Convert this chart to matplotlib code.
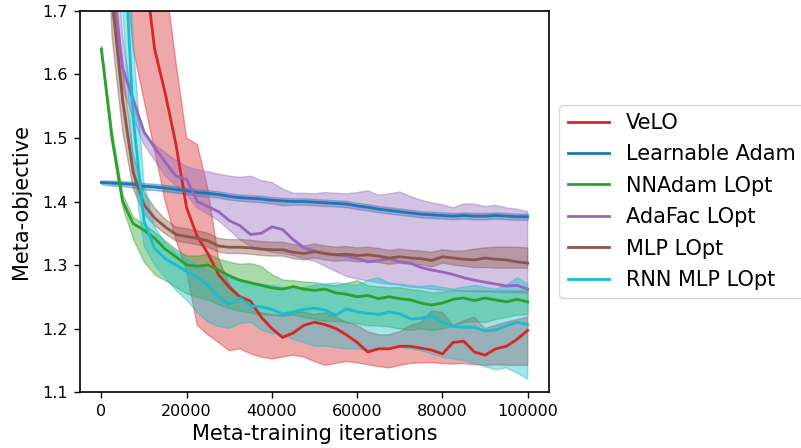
import numpy as np
import matplotlib
matplotlib.use('Agg')
import matplotlib.pyplot as plt

# meta-training iterations, one sample every 2500 steps
iters = np.arange(0, 100001, 2500)

labels = ['VeLO', 'Learnable Adam', 'NNAdam LOpt', 'AdaFac LOpt', 'MLP LOpt', 'RNN MLP LOpt']
colors = ['#d62728', '#1f77b4', '#2ca02c', '#9467bd', '#8c564b', '#17becf']

# VeLO
velo = [2.6, 2.4, 2.2, 2.0, 1.78, 1.64, 1.57, 1.49, 1.39, 1.345, 1.318, 1.285, 1.265, 1.25,
        1.243, 1.218, 1.2, 1.186, 1.193, 1.205, 1.21, 1.206, 1.2, 1.19, 1.178, 1.163, 1.168,
        1.168, 1.172, 1.172, 1.169, 1.166, 1.16, 1.178, 1.18, 1.163, 1.158, 1.168, 1.172, 1.183, 1.197]
velo_lo = [2.1, 1.95, 1.8, 1.64, 1.56, 1.48, 1.40, 1.34, 1.29, 1.205, 1.19, 1.178, 1.165, 1.168,
           1.16, 1.155, 1.152, 1.155, 1.158, 1.155, 1.148, 1.142, 1.145, 1.148, 1.146, 1.143, 1.14,
           1.138, 1.142, 1.145, 1.146, 1.146, 1.145, 1.144, 1.145, 1.143, 1.142, 1.143, 1.142, 1.142, 1.142]
velo_hi = [3.2, 3.0, 2.8, 2.5, 2.2, 1.95, 1.75, 1.62, 1.50, 1.49, 1.42, 1.31, 1.27, 1.25,
           1.235, 1.225, 1.222, 1.22, 1.225, 1.226, 1.222, 1.225, 1.218, 1.21, 1.205, 1.195, 1.19,
           1.19, 1.195, 1.205, 1.21, 1.228, 1.225, 1.205, 1.212, 1.218, 1.2, 1.205, 1.21, 1.214, 1.218]

# Learnable Adam
ladam = [1.430, 1.429, 1.428, 1.427, 1.424, 1.423, 1.421, 1.419, 1.417, 1.414, 1.413, 1.411,
         1.408, 1.406, 1.405, 1.404, 1.402, 1.401, 1.400, 1.400, 1.399, 1.398, 1.397, 1.396,
         1.393, 1.391, 1.388, 1.386, 1.384, 1.382, 1.380, 1.379, 1.378, 1.377, 1.378, 1.377,
         1.377, 1.378, 1.377, 1.376, 1.376]
ladam_lo = [1.427, 1.425, 1.424, 1.422, 1.419, 1.418, 1.416, 1.414, 1.412, 1.409, 1.408, 1.406,
            1.403, 1.401, 1.400, 1.399, 1.397, 1.394, 1.395, 1.395, 1.394, 1.393, 1.392, 1.391,
            1.388, 1.386, 1.383, 1.381, 1.379, 1.377, 1.375, 1.374, 1.373, 1.372, 1.373, 1.372,
            1.372, 1.373, 1.372, 1.371, 1.371]
ladam_hi = [1.433, 1.433, 1.432, 1.431, 1.429, 1.428, 1.426, 1.424, 1.422, 1.419, 1.418, 1.416,
            1.413, 1.411, 1.410, 1.409, 1.407, 1.406, 1.405, 1.405, 1.404, 1.403, 1.402, 1.401,
            1.398, 1.396, 1.393, 1.391, 1.389, 1.387, 1.385, 1.384, 1.383, 1.382, 1.383, 1.382,
            1.382, 1.383, 1.382, 1.381, 1.381]

# NNAdam LOpt
nnadam = [1.640, 1.50, 1.40, 1.365, 1.355, 1.342, 1.325, 1.313, 1.30, 1.298, 1.30, 1.292, 1.283,
          1.276, 1.272, 1.268, 1.264, 1.262, 1.266, 1.262, 1.26, 1.262, 1.256, 1.254, 1.25, 1.252,
          1.247, 1.25, 1.247, 1.245, 1.24, 1.237, 1.24, 1.246, 1.248, 1.244, 1.248, 1.245, 1.242,
          1.246, 1.242]
nnadam_lo = [1.635, 1.49, 1.39, 1.34, 1.305, 1.285, 1.276, 1.265, 1.255, 1.25, 1.245, 1.238,
             1.232, 1.228, 1.225, 1.222, 1.222, 1.22, 1.222, 1.218, 1.215, 1.212, 1.212, 1.21,
             1.208, 1.205, 1.205, 1.203, 1.2, 1.198, 1.2, 1.198, 1.2, 1.205, 1.21, 1.212, 1.21,
             1.215, 1.218, 1.222, 1.222]
nnadam_hi = [1.645, 1.51, 1.41, 1.375, 1.365, 1.352, 1.338, 1.325, 1.315, 1.315, 1.318, 1.31,
             1.305, 1.302, 1.303, 1.298, 1.285, 1.277, 1.276, 1.274, 1.273, 1.27, 1.268, 1.272,
             1.276, 1.268, 1.266, 1.265, 1.265, 1.262, 1.26, 1.257, 1.258, 1.26, 1.26, 1.26, 1.26,
             1.26, 1.26, 1.26, 1.26]

# AdaFac LOpt
adafac = [2.0, 1.75, 1.61, 1.56, 1.51, 1.485, 1.462, 1.44, 1.435, 1.40, 1.392, 1.384, 1.37,
          1.362, 1.348, 1.35, 1.36, 1.356, 1.34, 1.327, 1.322, 1.318, 1.316, 1.314, 1.31, 1.305,
          1.307, 1.31, 1.305, 1.303, 1.296, 1.292, 1.289, 1.285, 1.28, 1.276, 1.273, 1.27, 1.267,
          1.268, 1.262]
adafac_lo = [1.9, 1.70, 1.58, 1.53, 1.49, 1.465, 1.44, 1.425, 1.41, 1.39, 1.38, 1.37, 1.355,
             1.34, 1.33, 1.325, 1.32, 1.318, 1.315, 1.31, 1.306, 1.298, 1.29, 1.282, 1.278, 1.275,
             1.272, 1.27, 1.268, 1.265, 1.264, 1.262, 1.26, 1.26, 1.259, 1.258, 1.258, 1.257,
             1.256, 1.256, 1.255]
adafac_hi = [2.3, 1.9, 1.66, 1.55, 1.505, 1.49, 1.477, 1.465, 1.455, 1.45, 1.447, 1.443, 1.44,
             1.438, 1.44, 1.433, 1.43, 1.42, 1.413, 1.413, 1.412, 1.414, 1.413, 1.412, 1.414,
             1.417, 1.41, 1.412, 1.415, 1.408, 1.402, 1.398, 1.395, 1.39, 1.396, 1.396, 1.392,
             1.394, 1.39, 1.388, 1.384]

# MLP LOpt
mlp = [2.3, 1.72, 1.56, 1.445, 1.395, 1.374, 1.36, 1.348, 1.345, 1.342, 1.338, 1.33, 1.328,
       1.328, 1.327, 1.325, 1.324, 1.324, 1.32, 1.318, 1.321, 1.318, 1.316, 1.317, 1.315, 1.316,
       1.314, 1.311, 1.313, 1.311, 1.31, 1.307, 1.313, 1.311, 1.309, 1.308, 1.311, 1.309, 1.308,
       1.305, 1.303]
mlp_lo = [2.1, 1.66, 1.51, 1.42, 1.38, 1.362, 1.349, 1.338, 1.335, 1.332, 1.328, 1.32, 1.318,
          1.318, 1.317, 1.315, 1.314, 1.314, 1.31, 1.308, 1.311, 1.308, 1.306, 1.307, 1.305,
          1.306, 1.304, 1.301, 1.303, 1.301, 1.3, 1.297, 1.303, 1.3, 1.298, 1.296, 1.296, 1.295,
          1.295, 1.295, 1.295]
mlp_hi = [2.5, 1.80, 1.61, 1.475, 1.415, 1.39, 1.372, 1.36, 1.357, 1.354, 1.35, 1.342, 1.34,
          1.34, 1.339, 1.337, 1.336, 1.336, 1.332, 1.33, 1.333, 1.33, 1.328, 1.329, 1.327, 1.328,
          1.326, 1.323, 1.325, 1.323, 1.322, 1.32, 1.324, 1.322, 1.322, 1.325, 1.327, 1.328,
          1.328, 1.328, 1.327]

# RNN MLP LOpt
rnn = [2.8, 2.2, 1.85, 1.53, 1.37, 1.326, 1.31, 1.3, 1.29, 1.281, 1.268, 1.25, 1.238, 1.248,
       1.236, 1.234, 1.23, 1.223, 1.226, 1.23, 1.232, 1.229, 1.221, 1.231, 1.226, 1.224, 1.222,
       1.226, 1.223, 1.215, 1.216, 1.221, 1.21, 1.203, 1.202, 1.202, 1.196, 1.198, 1.204, 1.21,
       1.206]
rnn_lo = [2.6, 2.0, 1.7, 1.45, 1.33, 1.3, 1.28, 1.26, 1.245, 1.225, 1.21, 1.203, 1.2, 1.208,
          1.21, 1.198, 1.192, 1.19, 1.183, 1.178, 1.172, 1.172, 1.17, 1.168, 1.168, 1.166, 1.168,
          1.168, 1.17, 1.168, 1.165, 1.16, 1.155, 1.152, 1.15, 1.145, 1.14, 1.135, 1.138, 1.13,
          1.12]
rnn_hi = [3.0, 2.4, 2.0, 1.65, 1.43, 1.36, 1.335, 1.32, 1.31, 1.30, 1.292, 1.285, 1.28, 1.275,
          1.272, 1.27, 1.268, 1.265, 1.262, 1.265, 1.268, 1.27, 1.272, 1.27, 1.268, 1.276, 1.28,
          1.272, 1.27, 1.268, 1.266, 1.268, 1.265, 1.262, 1.265, 1.268, 1.265, 1.262, 1.268,
          1.28, 1.27]

means = [velo, ladam, nnadam, adafac, mlp, rnn]
lows = [velo_lo, ladam_lo, nnadam_lo, adafac_lo, mlp_lo, rnn_lo]
highs = [velo_hi, ladam_hi, nnadam_hi, adafac_hi, mlp_hi, rnn_hi]

fig = plt.figure(figsize=(8.01, 4.48), dpi=100)
ax = fig.add_axes([80/801, 1-392/448, 469/801, 381/448])

for m, lo, hi, c, lab in zip(means, lows, highs, colors, labels):
    ax.fill_between(iters, lo, hi, color=c, alpha=0.4, linewidth=1)
    ax.plot(iters, m, color=c, linewidth=2, label=lab)

ax.set_xlim(-5000, 105000)
ax.set_ylim(1.1, 1.7)
ax.set_xticks([0, 20000, 40000, 60000, 80000, 100000])
ax.set_yticks([1.1, 1.2, 1.3, 1.4, 1.5, 1.6, 1.7])
ax.tick_params(labelsize=11.5, length=4.4, width=1, pad=4.5)
for s in ax.spines.values():
    s.set_linewidth(1.2)
ax.set_xlabel('Meta-training iterations', fontsize=15, labelpad=3)
ax.set_ylabel('Meta-objective', fontsize=15, labelpad=8)
ax.legend(loc='center left', bbox_to_anchor=(1.0, 0.5), fontsize=15, labelspacing=0.55)

fig.savefig('out.png', dpi=100)
